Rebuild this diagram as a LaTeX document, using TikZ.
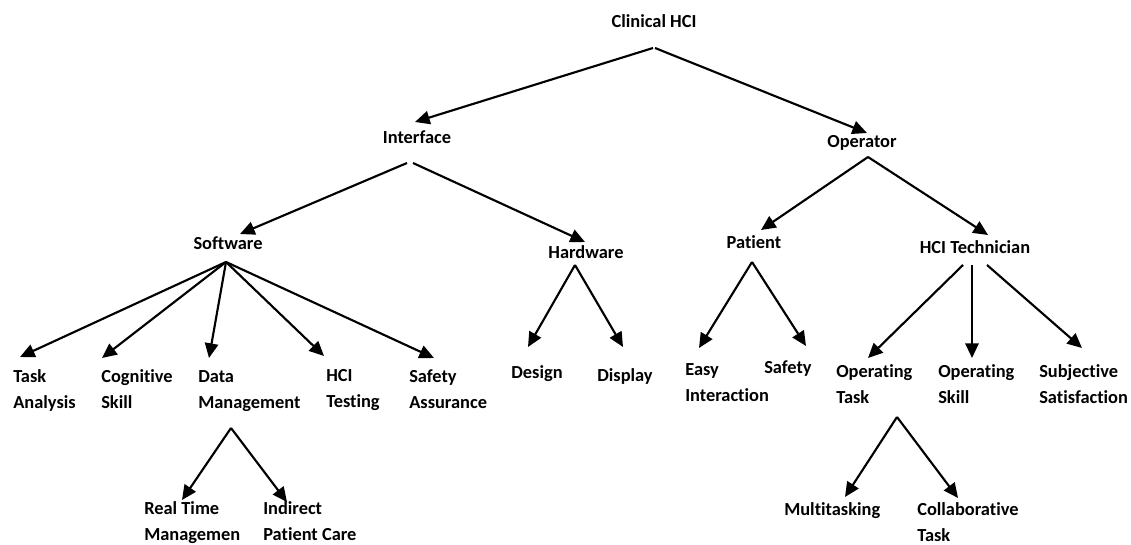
\documentclass[tikz,border=0pt]{standalone}
\usepackage{fontspec}
\setmainfont{Carlito}[Ligatures=NoCommon]
\usepackage{tikz}
\usetikzlibrary{arrows.meta,calc}

\begin{document}
\begin{tikzpicture}[x=0.75pt, y=-0.75pt,
		item/.style={font=\bfseries\fontsize{13.8pt}{19.5pt}\selectfont, inner sep=0pt, align=left},
		branch/.style={line width=1.6pt, -{Triangle[length=11pt, width=10pt]}}]
			\useasboundingbox (0, 0) rectangle (1131, 545);
			% upper levels
			\node[item, anchor=base] (root) at (654, 28) {Clinical HCI};
			\node[item, anchor=base] (itf) at (417, 144) {Interface};
			\node[item, anchor=base] (opr) at (862, 148) {Operator};
			\node[item, anchor=base] (sw) at (228, 250) {Software};
			\node[item, anchor=base] (hw) at (586, 258) {Hardware};
			\node[item, anchor=base] (pat) at (754, 248) {Patient};
			\node[item, anchor=base] (tech) at (975, 253) {HCI Technician};
			% leaves (two-line ones sit on their last line)
			\node[item, anchor=base west] (ta) at (13, 408) {Task\\Analysis};
			\node[item, anchor=base west] (cs) at (101, 408) {Cognitive\\Skill};
			\node[item, anchor=base west] (dm) at (198, 408) {Data\\Management};
			\node[item, anchor=base west] (ht) at (326, 407) {HCI\\Testing};
			\node[item, anchor=base west] (sa) at (409, 408) {Safety\\Assurance};
			\node[item, anchor=base] (de) at (537, 378) {Design};
			\node[item, anchor=base] (di) at (625, 381) {Display};
			\node[item, anchor=base west] (ei) at (685, 401) {Easy\\Interaction};
			\node[item, anchor=base west] (sf) at (764, 373) {Safety};
			\node[item, anchor=base west] (ot) at (836, 403) {Operating\\Task};
			\node[item, anchor=base west] (os) at (938, 403) {Operating\\Skill};
			\node[item, anchor=base west] (ss) at (1039, 403) {Subjective\\Satisfaction};
			\node[item, anchor=base west] (rt) at (144, 540) {Real Time\\Managemen};
			\node[item, anchor=base west] (ip) at (263, 540) {Indirect\\Patient Care};
			\node[item, anchor=base west] (mt) at (784, 515) {Multitasking};
			\node[item, anchor=base west] (ct) at (917, 541) {Collaborative\\Task};
			% root and interface
			\draw[branch] ($(root.base)+(-1, 20)$) -- ($(itf.base)+(-2, -22)$);
			\draw[branch] ($(root.base)+(1, 20)$) -- ($(opr.base)+(5, -15)$);
			\draw[branch] ($(itf.base)+(-10, 19)$) -- ($(sw.base)+(12, -16)$);
			\draw[branch] ($(itf.base)+(-4, 19)$) -- ($(hw.base)+(-1, -16)$);
			% operator
			\draw[branch] ($(opr.base)+(6, 9)$) -- ($(pat.base)+(7, -18)$);
			\draw[branch] ($(opr.base)+(6, 9)$) -- ($(tech.base)+(13, -18)$);
			% software
			\draw[branch] ($(sw.base)+(-2, 12)$) -- ($(ta.base west)+(7, -51)$);
			\draw[branch] ($(sw.base)+(-2, 12)$) -- ($(cs.base west)+(1, -50)$);
			\draw[branch] ($(sw.base)+(-2, 12)$) -- ($(dm.base west)+(11, -50)$);
			\draw[branch] ($(sw.base)+(-2, 12)$) -- ($(ht.base west)+(-2, -51)$);
			\draw[branch] ($(sw.base)+(-2, 12)$) -- ($(sa.base west)+(25, -50)$);
			% hardware
			\draw[branch] ($(hw.base)+(-11, 7)$) -- ($(de.base)+(-9, -31)$);
			\draw[branch] ($(hw.base)+(-11, 7)$) -- ($(di.base)+(-2, -34)$);
			% patient
			\draw[branch] ($(pat.base)+(-2, 14)$) -- ($(ei.base west)+(14, -53)$);
			\draw[branch] ($(pat.base)+(-2, 14)$) -- ($(sf.base west)+(42, -27)$);
			% technician
			\draw[branch] ($(tech.base)+(-12, 12)$) -- ($(ot.base west)+(32, -45)$);
			\draw[branch] ($(tech.base)+(-3, 12)$) -- ($(os.base west)+(34, -45)$);
			\draw[branch] ($(tech.base)+(12, 12)$) -- ($(ss.base west)+(43, -55)$);
			% data management
			\draw[branch] ($(dm.base west)+(33, 20)$) -- ($(rt.base west)+(38, -40)$);
			\draw[branch] ($(dm.base west)+(33, 20)$) -- ($(ip.base west)+(24, -38)$);
			% operating task
			\draw[branch] ($(ot.base west)+(61, 14)$) -- ($(mt.base west)+(61, -18)$);
			\draw[branch] ($(ot.base west)+(61, 14)$) -- ($(ct.base west)+(41, -43)$);
		\end{tikzpicture}
\end{document}
